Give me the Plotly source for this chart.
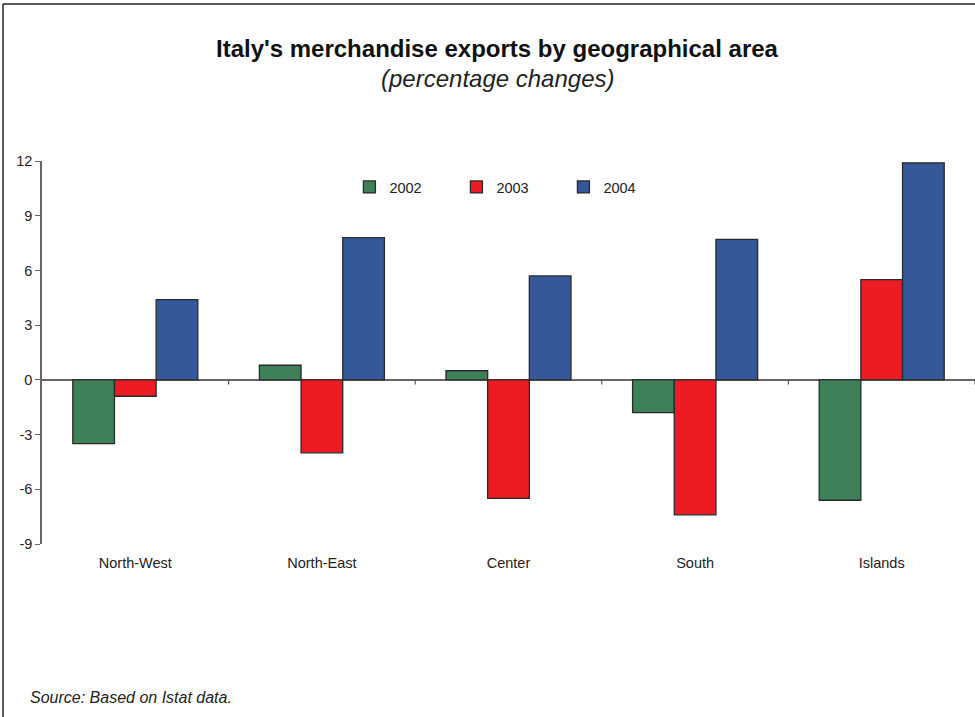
import plotly.graph_objects as go

# Regions and yearly percentage changes in merchandise exports
areas = ["North-West", "North-East", "Center", "South", "Islands"]
years = ["2002", "2003", "2004"]
chg_2002 = [-3.5, 0.8, 0.5, -1.8, -6.6]
chg_2003 = [-0.9, -4.0, -6.5, -7.4, 5.5]
chg_2004 = [4.4, 7.8, 5.7, 7.7, 11.9]
y_ticks = [-9, -6, -3, 0, 3, 6, 9, 12]
y_tick_text = [str(v) for v in y_ticks]  # plain hyphen for negatives

series = [chg_2002, chg_2003, chg_2004]
colors = ["#3E8158", "#ED1C24", "#34589A"]

FONT = "Liberation Sans, Arial, sans-serif"

fig = go.Figure()
for name, vals, col in zip(years, series, colors):
    fig.add_trace(go.Bar(
        x=areas, y=vals, name=name,
        marker=dict(color=col, line=dict(color="#2a2a2a", width=1.3)),
    ))

# small tick marks on the zero line between the area groups
shapes = []
for i in range(len(areas)):
    shapes.append(dict(type="line", xref="x", yref="y",
                       x0=i + 0.5, x1=i + 0.5, y0=0, y1=-0.25,
                       line=dict(color="#555555", width=1.2)))
# frame around the chart (left and top edges)
shapes.append(dict(type="line", xref="paper", yref="paper",
                   x0=-0.0418, x1=-0.0418, y0=1.41, y1=-0.46,
                   line=dict(color="#222222", width=1.5)))
shapes.append(dict(type="line", xref="paper", yref="paper",
                   x0=-0.0418, x1=1.01, y0=1.41, y1=1.41,
                   line=dict(color="#222222", width=1.5)))

fig.update_layout(
    width=975, height=717,
    margin=dict(l=42, r=0, t=161, b=173),
    paper_bgcolor="white", plot_bgcolor="white",
    font=dict(family=FONT, size=14.5, color="#222222"),
    barmode="group", bargap=0.33, bargroupgap=0,
    showlegend=True,
    legend=dict(orientation="h", x=0.3295, y=0.932, xanchor="left", yanchor="middle",
                entrywidth=62, entrywidthmode="pixels", itemwidth=30,
                font=dict(family=FONT, size=14.5, color="#222222"),
                bgcolor="rgba(0,0,0,0)", traceorder="normal"),
    xaxis=dict(showline=False, showgrid=False, zeroline=False,
               ticks="outside", ticklen=6, tickcolor="rgba(0,0,0,0)",
               tickfont=dict(size=14.5), range=[-0.5, 4.5]),
    yaxis=dict(range=[-9, 12], tickvals=y_ticks, ticktext=y_tick_text,
               showgrid=False,
               showline=True, linecolor="#666666", linewidth=1.5,
               ticks="outside", ticklen=5, tickcolor="#666666",
               zeroline=True, zerolinecolor="#666666", zerolinewidth=1.5,
               tickfont=dict(size=14.5)),
    shapes=shapes,
    annotations=[
        dict(text="<b>Italy's merchandise exports by geographical area</b>",
             xref="paper", yref="paper", x=0.488, y=1.0, yshift=113,
             showarrow=False, font=dict(size=24, color="#111111"),
             xanchor="center", yanchor="middle"),
        dict(text="<i>(percentage changes)</i>",
             xref="paper", yref="paper", x=0.488, y=1.0, yshift=83,
             showarrow=False, font=dict(size=24, color="#222222"),
             xanchor="center", yanchor="middle"),
        dict(text="<i>Source: Based on Istat data.</i>",
             xref="paper", yref="paper", x=0, y=0, xshift=-14, yshift=-153,
             showarrow=False, font=dict(size=16, color="#222222"),
             xanchor="left", yanchor="middle"),
    ],
)

fig.write_html("out.html")
